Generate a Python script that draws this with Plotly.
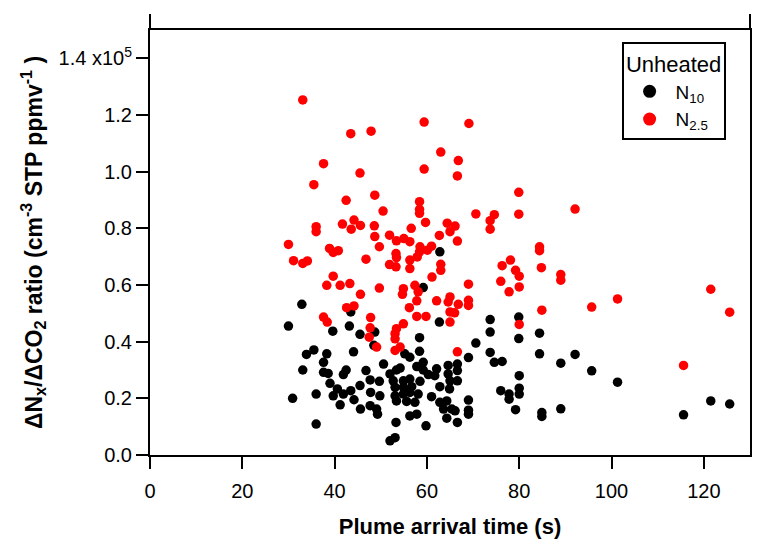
import plotly.graph_objects as go

# Plume arrival time (s) and ratio (x10^5 cm^-3 STP ppmv^-1)
n10_time = [32.9, 43.5, 30.0, 39.6, 43.2, 45.5, 48.7, 48.5, 33.9, 35.5, 38.3, 44.1, 37.6, 50.6, 33.1, 37.6, 38.6, 42.5,
            46.8, 41.9, 52.0, 39.0, 47.7, 49.7, 45.5, 40.6, 43.5, 41.9, 39.7, 36.0, 47.8, 49.8, 30.9, 44.2, 41.2, 45.6,
            47.7, 49.1, 49.3, 53.3, 36.0, 52.0,
            62.7, 58.4, 55.2, 56.3, 58.4, 53.4, 54.2, 57.8, 59.2, 59.2, 62.1, 64.6, 60.3, 61.7, 64.6, 65.0, 52.7, 54.9,
            56.3, 58.5, 62.8, 64.9, 53.1, 54.9, 56.7, 53.1, 54.9, 56.3, 58.1, 61.0, 53.4, 55.6, 57.4, 62.8, 64.3, 63.6,
            65.4, 56.3, 57.8, 64.3, 59.8, 53.1,
            62.8, 59.2,
            73.7, 73.7, 79.9, 79.9, 84.4, 70.6, 73.7, 84.4, 92.1, 69.0, 74.6, 76.3, 89.0, 95.7, 66.6, 66.6, 66.6, 76.0,
            77.8, 77.8, 80.0, 80.0, 80.0, 101.3, 69.0, 66.1, 69.0, 69.0, 66.6, 79.2, 84.9, 84.9, 89.0, 115.6, 121.5, 125.6]
n10_ratio = [0.532, 0.505, 0.455, 0.437, 0.455, 0.426, 0.434, 0.387, 0.355, 0.371, 0.357, 0.364, 0.327, 0.321, 0.300,
             0.292, 0.288, 0.300, 0.298, 0.284, 0.286, 0.253, 0.265, 0.260, 0.245, 0.233, 0.227, 0.215, 0.209, 0.215,
             0.221, 0.209, 0.200, 0.195, 0.177, 0.162, 0.174, 0.162, 0.144, 0.115, 0.109, 0.050,
             0.469, 0.414, 0.357, 0.345, 0.366, 0.300, 0.307, 0.312, 0.327, 0.300, 0.304, 0.316, 0.284, 0.280, 0.286,
             0.262, 0.262, 0.262, 0.268, 0.260, 0.241, 0.233, 0.239, 0.239, 0.241, 0.209, 0.215, 0.221, 0.215, 0.206,
             0.191, 0.189, 0.186, 0.186, 0.191, 0.162, 0.162, 0.138, 0.144, 0.130, 0.103, 0.061,
             0.717, 0.591,
             0.478, 0.434, 0.487, 0.411, 0.430, 0.395, 0.362, 0.357, 0.355, 0.344, 0.327, 0.330, 0.324, 0.297, 0.321,
             0.298, 0.262, 0.227, 0.215, 0.197, 0.280, 0.236, 0.215, 0.257, 0.194, 0.156, 0.158, 0.144, 0.115, 0.160,
             0.150, 0.136, 0.163, 0.142, 0.191, 0.180]

n25_time = [33.1,
            43.5, 47.9, 37.6, 45.5, 35.5, 42.5, 48.7, 50.5, 36.0, 36.0, 41.7, 44.2, 43.6, 45.6, 48.6, 48.7, 51.9, 53.4,
            30.0, 49.7, 38.9, 39.7, 40.8, 53.3, 31.1, 33.1, 34.1, 46.8, 51.9, 53.3, 39.7, 38.3, 41.2, 43.3, 49.7,
            59.4, 69.1, 63.0, 59.4, 58.4, 58.4, 58.4, 59.7, 64.4, 56.6, 62.7, 55.0, 56.3, 58.5, 61.0, 58.4, 60.1, 53.4,
            57.9, 56.3, 56.3, 63.0, 63.0, 61.1, 54.9, 57.4,
            66.8, 66.6, 79.9, 70.6, 74.6, 73.7, 73.7, 79.9, 92.1, 66.1, 65.0, 66.6, 84.4, 84.4, 78.1, 76.3, 79.2, 80.0,
            84.8, 76.0, 77.8, 80.0, 89.0, 89.0, 69.0, 65.0, 69.0, 69.0, 66.8, 66.0, 65.0, 84.9, 95.7, 101.3, 121.5,
            125.6, 80.0, 66.6, 115.6,
            54.7, 58.1, 57.8, 62.1, 64.6, 56.2, 57.8, 59.8, 65.0, 54.9, 53.4, 53.1, 53.1, 54.2, 53.1,
            45.6, 42.6, 44.2, 37.6, 38.4, 47.8, 47.7, 47.5, 49.1]
n25_ratio = [1.253,
             1.134, 1.143, 1.028, 0.995, 0.954, 0.899, 0.917, 0.861, 0.806, 0.788, 0.815, 0.829, 0.797, 0.810, 0.809,
             0.771, 0.776, 0.756, 0.743, 0.735, 0.729, 0.715, 0.721, 0.711, 0.686, 0.676, 0.685, 0.691, 0.672, 0.664,
             0.631, 0.599, 0.599, 0.605, 0.589,
             1.175, 1.170, 1.069, 1.009, 0.894, 0.867, 0.853, 0.821, 0.818, 0.800, 0.775, 0.764, 0.753, 0.735, 0.737,
             0.717, 0.723, 0.697, 0.699, 0.688, 0.658, 0.673, 0.652, 0.628, 0.587, 0.599,
             1.039, 0.985, 0.927, 0.851, 0.848, 0.827, 0.797, 0.850, 0.868, 0.808, 0.788, 0.755, 0.735, 0.721, 0.688,
             0.668, 0.652, 0.631, 0.661, 0.613, 0.576, 0.593, 0.637, 0.617, 0.603, 0.558, 0.546, 0.528, 0.532, 0.502,
             0.469, 0.511, 0.522, 0.551, 0.585, 0.504, 0.461, 0.364, 0.316,
             0.567, 0.576, 0.544, 0.544, 0.540, 0.520, 0.489, 0.489, 0.505, 0.463, 0.446, 0.428, 0.410, 0.381, 0.369,
             0.567, 0.520, 0.526, 0.487, 0.469, 0.485, 0.449, 0.416, 0.381]

y_tickvals = [0.0, 0.2, 0.4, 0.6, 0.8, 1.0, 1.2, 1.4]
y_ticktext = ["0.0", "0.2", "0.4", "0.6", "0.8", "1.0", "1.2", "1.4 x10<sup>5</sup>"]
x_tickvals = [0, 20, 40, 60, 80, 100, 120]

FONT = "Liberation Sans, Arial, sans-serif"

fig = go.Figure()
fig.add_trace(go.Scatter(x=n10_time, y=n10_ratio, mode="markers", showlegend=False,
                         marker=dict(color="black", size=9.5, line=dict(width=0))))
fig.add_trace(go.Scatter(x=n25_time, y=n25_ratio, mode="markers", showlegend=False,
                         marker=dict(color="#ff0000", size=9.5, line=dict(width=0))))
# legend entries
fig.add_trace(go.Scatter(x=[None], y=[None], mode="markers", name="N<sub>10</sub>",
                         marker=dict(color="black", size=13)))
fig.add_trace(go.Scatter(x=[None], y=[None], mode="markers", name="N<sub>2.5</sub>",
                         marker=dict(color="#ff0000", size=13)))

axis_common = dict(showline=True, linecolor="black", linewidth=2, mirror=True, ticks="outside",
                   ticklen=12, tickwidth=2, tickcolor="black", showgrid=False, zeroline=False,
                   tickfont=dict(family=FONT, size=20, color="black"))

fig.update_xaxes(range=[0, 130], tickvals=x_tickvals,
                 title=dict(text="<b>Plume arrival time (s)</b>", font=dict(family=FONT, size=22, color="black"),
                            standoff=18),
                 ticklabelstandoff=5, **axis_common)
fig.update_yaxes(range=[0, 1.5], tickvals=y_tickvals, ticktext=y_ticktext,
                 title=dict(text="<b>ΔN<sub>x</sub>/ΔCO<sub>2</sub> ratio (cm<sup>-3</sup> STP ppmv<sup>-1</sup> )</b>",
                            font=dict(family=FONT, size=23, color="black"), standoff=10),
                 **axis_common)

# axis lines extending above the frame
for xp in [0, 1]:
    fig.add_shape(type="line", xref="paper", yref="paper", x0=xp, x1=xp, y0=1, y1=1 + 16 / 425,
                  line=dict(color="black", width=2))

fig.update_layout(
    width=767, height=545,
    margin=dict(l=142, r=25, t=22, b=98),
    paper_bgcolor="white", plot_bgcolor="white",
    font=dict(family=FONT, color="black"),
    legend=dict(x=0.786, y=0.972, xanchor="left", yanchor="top",
                bordercolor="black", borderwidth=2, bgcolor="white",
                title=dict(text="Unheated", font=dict(family=FONT, size=22), side="top center"),
                font=dict(family=FONT, size=19), itemwidth=42, tracegroupgap=0),
)

fig.write_html("out.html")
